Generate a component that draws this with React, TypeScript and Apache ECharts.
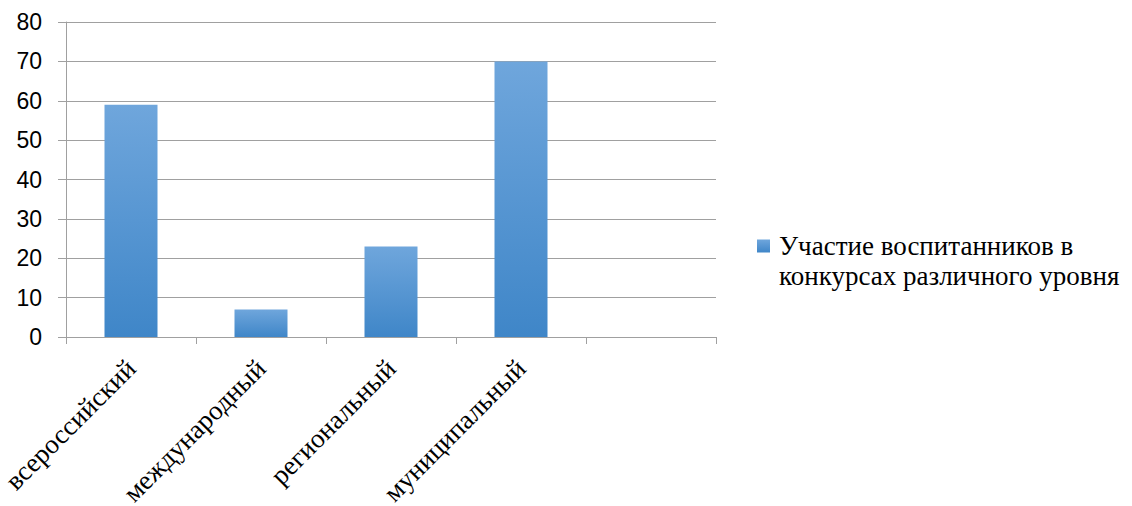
import React, { useEffect, useRef } from "react";
import * as echarts from "echarts";

const categories = ["всероссийский", "международный", "региональный", "муниципальный", ""];
const values: (number | null)[] = [59, 7, 23, 70, null];
const seriesName = "Участие воспитанников в конкурсах различного уровня";
const legendLines = ["Участие воспитанников в", "конкурсах различного уровня"];
const yTicks = { min: 0, max: 80, interval: 10 };

const SERIF = "Liberation Serif, Times New Roman, Tinos, serif";
const SANS = "Liberation Sans";

export default function App() {
  const ref = useRef<HTMLDivElement>(null);
  useEffect(() => {
    document.body.style.margin = "0";
    document.documentElement.style.overflow = "hidden";
    const chart = echarts.init(ref.current!, undefined, { renderer: "svg" });
    chart.setOption({
      animation: false,
      backgroundColor: "#ffffff",
      textStyle: { fontFamily: SERIF },
      grid: {
        left: 66,
        right: 416,
        top: 22,
        bottom: 169,
        containLabel: false,
        outerBoundsMode: "none",
      },
      legend: {
        left: 752,
        top: 196,
        padding: 5,
        itemWidth: 13,
        itemHeight: 13,
        itemGap: 10,
        icon: "rect",
        formatter: () => "\n" + legendLines.join("\n"),
        textStyle: {
          fontFamily: SERIF,
          fontSize: 27,
          color: "#000",
          lineHeight: 30,
          padding: [0, 0, 0, 4],
        },
        data: [seriesName],
      },
      xAxis: {
        type: "category",
        data: categories,
        axisLine: { show: true, lineStyle: { color: "#a0a0a0", width: 1 } },
        axisTick: { show: true, length: 7, alignWithLabel: false, lineStyle: { color: "#a0a0a0" } },
        axisLabel: {
          interval: 0,
          rotate: 45,
          margin: 27,
          fontFamily: SERIF,
          fontSize: 27,
          color: "#000",
        },
      },
      yAxis: {
        type: "value",
        min: yTicks.min,
        max: yTicks.max,
        interval: yTicks.interval,
        axisLine: { show: true, lineStyle: { color: "#a0a0a0", width: 1 } },
        axisTick: { show: true, length: 8, lineStyle: { color: "#a0a0a0" } },
        axisLabel: {
          margin: 24,
          fontFamily: SANS,
          fontSize: 23,
          color: "#000",
        },
        splitLine: { show: true, lineStyle: { color: "#a0a0a0", width: 1 } },
      },
      series: [
        {
          name: seriesName,
          type: "bar",
          data: values,
          barWidth: 53,
          itemStyle: {
            color: new echarts.graphic.LinearGradient(0, 0, 0, 1, [
              { offset: 0, color: "#6fa6dc" },
              { offset: 1, color: "#3f86c8" },
            ]),
          },
        },
      ],
    });
    return () => chart.dispose();
  }, []);
  return <div ref={ref} style={{ width: 1132, height: 506, overflow: "hidden" }} />;
}
